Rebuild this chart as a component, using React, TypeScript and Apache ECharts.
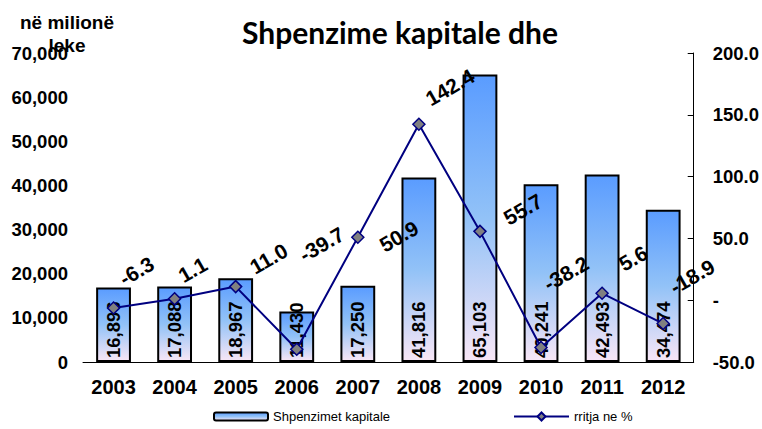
import React, { useEffect, useRef } from "react";
import * as echarts from "echarts";

const years = ["2003", "2004", "2005", "2006", "2007", "2008", "2009", "2010", "2011", "2012"];
const spending = [16896, 17088, 18967, 11430, 17250, 41816, 65103, 40241, 42493, 34474];
const growth = [-6.3, 1.1, 11.0, -39.7, 50.9, 142.4, 55.7, -38.2, 5.6, -18.9];
// screen offsets (px) of each growth label from its point
const growthLabelShift = [
  [23, -37], [18, -29], [33, -28], [25, -105], [41, -1],
  [31, -37], [43, -22], [25, -74], [31, -35], [29, -47],
];

const ROT = 30;
const FONT = 'Arial, "Liberation Sans", sans-serif';

function toLocal(dx: number, dy: number): [number, number] {
  const t = (ROT * Math.PI) / 180;
  const c = Math.cos(t), s = Math.sin(t);
  return [dx * c - dy * s, dx * s + dy * c];
}

export default function App() {
  const ref = useRef<HTMLDivElement>(null);
  useEffect(() => {
    if (!ref.current) return;
    const chart = echarts.init(ref.current, null, { renderer: "svg" });
    const barGradient = new echarts.graphic.LinearGradient(0, 0, 0, 1, [
      { offset: 0, color: "#5a9cff" },
      { offset: 0.5, color: "#92c2f7" },
      { offset: 1, color: "#f8e6f6" },
    ]);
    const legendText = { fontFamily: FONT, fontSize: 13, color: "#000" };
    chart.setOption({
      animation: false,
      backgroundColor: "#ffffff",
      title: {
        text: "Shpenzime kapitale dhe",
        left: 395,
        textAlign: "center",
        top: 12,
        textStyle: { fontFamily: "Lato, sans-serif", fontWeight: "bold", fontSize: 30, color: "#000" },
      },
      graphic: [
        {
          type: "text",
          x: 67,
          y: 11,
          style: {
            text: "në milionë\nleke",
            textAlign: "center",
            font: `bold 19px ${FONT}`,
            fill: "#000",
            lineHeight: 23,
          },
          z: 10,
        },
      ],
      legend: [
        {
          data: ["Shpenzimet kapitale"],
          left: 213,
          top: 410,
          padding: 0,
          itemWidth: 54,
          itemHeight: 8,
          itemGap: 4,
          textStyle: legendText,
        },
        {
          data: ["rritja ne %"],
          left: 513,
          top: 410,
          padding: 0,
          itemWidth: 55,
          itemHeight: 10,
          textStyle: legendText,
        },
      ],
      grid: { left: 83, right: 67, top: 53, bottom: 67 },
      xAxis: {
        type: "category",
        data: years,
        axisLine: { lineStyle: { color: "#000", width: 1 } },
        axisTick: { show: false },
        axisLabel: { color: "#000", fontFamily: FONT, fontWeight: "bold", fontSize: 20, margin: 15 },
      },
      yAxis: [
        {
          type: "value",
          min: 0,
          max: 70000,
          interval: 10000,
          axisLine: { show: false },
          axisTick: { show: false },
          splitLine: { show: false },
          axisLabel: {
            color: "#000",
            fontFamily: FONT,
            fontWeight: "bold",
            fontSize: 18.5,
            margin: 15,
            formatter: (v: number) => v.toLocaleString("en-US"),
          },
        },
        {
          type: "value",
          position: "right",
          min: -50,
          max: 200,
          interval: 50,
          axisLine: { show: true, lineStyle: { color: "#000", width: 1 } },
          axisTick: { show: true, inside: true, length: 6, lineStyle: { color: "#000" } },
          splitLine: { show: false },
          axisLabel: {
            color: "#000",
            fontFamily: FONT,
            fontWeight: "bold",
            fontSize: 18.5,
            margin: 19,
            formatter: (v: number) => (v === 0 ? "-" : v.toFixed(1)),
          },
        },
      ],
      series: [
        {
          name: "Shpenzimet kapitale",
          type: "bar",
          data: spending,
          barWidth: "57%",
          itemStyle: { color: barGradient, borderColor: "#000", borderWidth: 2 },
          label: {
            show: true,
            position: "insideBottom",
            rotate: 90,
            align: "left",
            verticalAlign: "middle",
            distance: 4,
            color: "#000",
            fontFamily: FONT,
            fontWeight: "bold",
            fontSize: 18.5,
            formatter: (p: any) => Number(p.value).toLocaleString("en-US"),
          },
          z: 2,
        },
        {
          name: "rritja ne %",
          type: "line",
          yAxisIndex: 1,
          data: growth.map((v, i) => ({
            value: v,
            label: { offset: toLocal(growthLabelShift[i][0], growthLabelShift[i][1]) },
          })),
          symbol: "diamond",
          symbolSize: 12,
          lineStyle: { color: "#000080", width: 2 },
          itemStyle: { color: "#808080", borderColor: "#000080", borderWidth: 1.5 },
          label: {
            show: true,
            position: "inside",
            rotate: ROT,
            align: "center",
            verticalAlign: "middle",
            color: "#000",
            fontFamily: FONT,
            fontWeight: "bold",
            fontSize: 21,
            formatter: (p: any) => Number(p.value).toFixed(1),
          },
          z: 5,
        },
      ],
    });
    return () => chart.dispose();
  }, []);
  return (
    <div
      ref={ref}
      style={{ position: "fixed", left: 0, top: 0, width: 762, height: 429, background: "#fff" }}
    />
  );
}
